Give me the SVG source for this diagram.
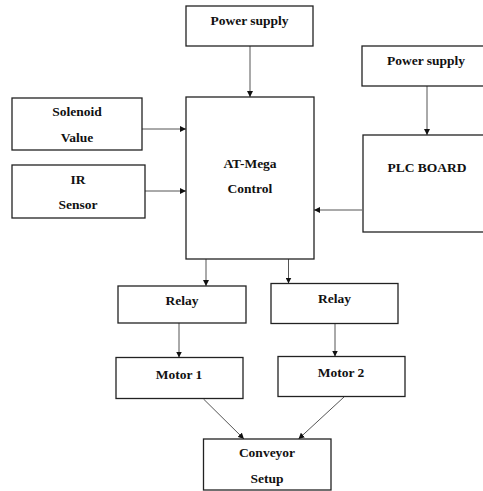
<svg xmlns="http://www.w3.org/2000/svg" width="483" height="491" viewBox="0 0 483 491">
<style>
.box{fill:#fff;stroke:#222;stroke-width:1.3}
.t{font-family:"Liberation Serif","Times New Roman",serif;font-weight:bold;font-size:13.5px;fill:#111;text-anchor:middle}
.c{stroke:#555;stroke-width:1;fill:none;marker-end:url(#ah)}
</style>
<defs>
<marker id="ah" viewBox="0 0 10 10" refX="10" refY="5" markerWidth="6" markerHeight="6" markerUnits="userSpaceOnUse" orient="auto">
<path d="M0,0 L10,5 L0,10 z" fill="#111"/>
</marker>
</defs>
<rect width="483" height="491" fill="#fff"/>
<g id="connectors">
<line class="c" x1="250" y1="46" x2="250" y2="97"/>
<line class="c" x1="427" y1="86" x2="427" y2="135"/>
<line class="c" x1="142" y1="129" x2="186" y2="129"/>
<line class="c" x1="145" y1="191" x2="186" y2="191"/>
<line class="c" x1="362" y1="210" x2="314" y2="210"/>
<line class="c" x1="206" y1="259" x2="206" y2="286"/>
<line class="c" x1="288.5" y1="259" x2="288.5" y2="283.5"/>
<line class="c" x1="179" y1="323" x2="179" y2="357.5"/>
<line class="c" x1="335" y1="323" x2="335" y2="356.5"/>
<line class="c" x1="203.5" y1="399" x2="244" y2="439"/>
<line class="c" x1="344" y1="397" x2="298.5" y2="439"/>
</g>
<g id="ps1"><rect class="box" x="186" y="6" width="127" height="40"/><text class="t" x="249.5" y="25">Power supply</text></g>
<g id="ps2"><rect class="box" x="362" y="46" width="125" height="40"/><text class="t" x="426" y="65">Power supply</text></g>
<g id="atmega"><rect class="box" x="186" y="97" width="128" height="162"/><text class="t" x="250" y="168">AT-Mega</text><text class="t" x="250" y="193">Control</text></g>
<g id="solenoid"><rect class="box" x="12" y="98" width="130" height="52"/><text class="t" x="77" y="116">Solenoid</text><text class="t" x="77" y="142">Value</text></g>
<g id="ir"><rect class="box" x="12" y="165" width="133" height="53"/><text class="t" x="78" y="184">IR</text><text class="t" x="78" y="209">Sensor</text></g>
<g id="plc"><rect class="box" x="363" y="135" width="124" height="97"/><text class="t" x="427" y="172">PLC BOARD</text></g>
<g id="relay1"><rect class="box" x="118" y="286" width="128" height="37"/><text class="t" x="182" y="305">Relay</text></g>
<g id="relay2"><rect class="box" x="271" y="283.5" width="127" height="40"/><text class="t" x="334.5" y="303">Relay</text></g>
<g id="motor1"><rect class="box" x="116" y="357.5" width="127" height="41"/><text class="t" x="179" y="379">Motor 1</text></g>
<g id="motor2"><rect class="box" x="278" y="356.5" width="127" height="40"/><text class="t" x="341" y="377">Motor 2</text></g>
<g id="conveyor"><rect class="box" x="203.5" y="439" width="127.5" height="51"/><text class="t" x="267" y="457">Conveyor</text><text class="t" x="267" y="483">Setup</text></g>
</svg>
